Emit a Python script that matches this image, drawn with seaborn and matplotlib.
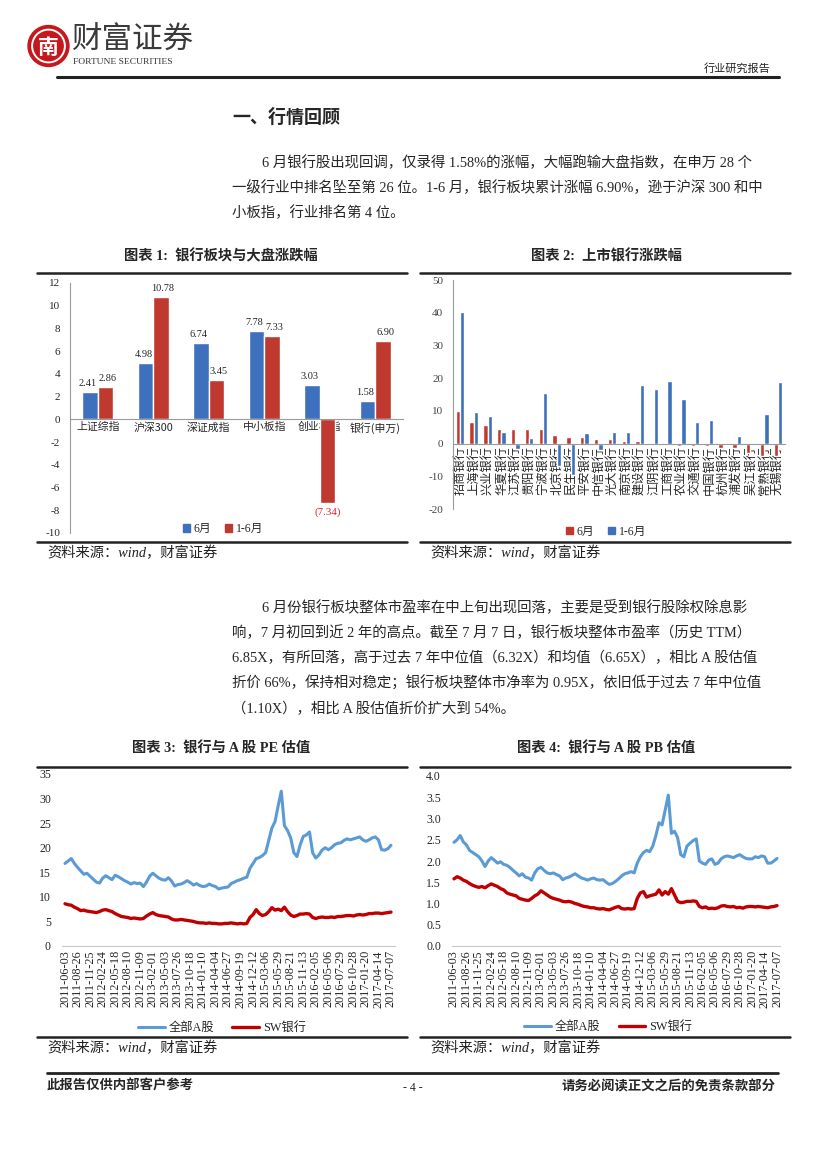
import matplotlib
matplotlib.use("Agg")
import numpy as np
import pandas as pd
import matplotlib.pyplot as plt
import seaborn as sns
from matplotlib.lines import Line2D
from matplotlib.patches import Patch, Circle

W, H = 827, 1169

# ---- chart 1: index returns ----
index_names = ["上证综指", "沪深300", "深证成指", "中小板指", "创业板指", "银行(申万)"]
index_jun = [2.41, 4.98, 6.74, 7.78, 3.03, 1.58]
index_h1 = [2.86, 10.78, 3.45, 7.33, -7.34, 6.90]

# ---- chart 2: listed banks ----
bank_names = ["招商银行", "上海银行", "兴业银行", "华夏银行", "江苏银行", "贵阳银行",
              "宁波银行", "北京银行", "民生银行", "平安银行", "中信银行", "光大银行",
              "南京银行", "建设银行", "江阴银行", "工商银行", "农业银行", "交通银行",
              "中国银行", "杭州银行", "浦发银行", "吴江银行", "常熟银行", "无锡银行"]
bank_jun = [10.1, 6.7, 5.6, 4.6, 4.6, 4.6, 4.6, 2.5, 2.1, 1.9, 1.5, 1.5,
            0.9, 0.9, 0.1, 0.1, -0.6, -0.6, -0.6, -1.3, -1.3, -2.9, -3.7, -3.9]
bank_h1 = [40.3, 9.8, 8.3, 3.4, -1.8, 1.8, 15.6, -6.8, -9.5, 3.2, -2.0, 3.4,
           3.4, 18.0, 16.8, 19.0, 13.5, 6.7, 7.3, 0.3, 2.4, -0.2, 9.0, 18.7]

# ---- charts 3/4: valuation, sampled every 3 weeks ----
date_ticks = ["2011-06-03", "2011-08-26", "2011-11-25", "2012-02-24", "2012-05-18",
              "2012-08-10", "2012-11-09", "2013-02-01", "2013-05-03", "2013-07-26",
              "2013-10-18", "2014-01-10", "2014-04-04", "2014-06-27", "2014-09-19",
              "2014-12-12", "2015-03-06", "2015-05-29", "2015-08-21", "2015-11-13",
              "2016-02-05", "2016-05-06", "2016-07-29", "2016-10-28", "2017-01-20",
              "2017-04-14", "2017-07-07"]
pe_all = [16.8, 17.3, 17.8, 16.8, 16.0, 15.3, 14.6, 14.8, 14.2, 13.6, 13.0, 12.8,
          13.8, 14.3, 13.9, 13.5, 14.4, 14.1, 13.7, 13.3, 13.0, 12.6, 12.9, 12.7,
          12.8, 12.1, 13.0, 14.2, 14.8, 14.3, 13.8, 13.5, 13.4, 13.9, 13.2, 12.2,
          12.5, 12.6, 12.9, 13.3, 12.9, 12.4, 12.7, 12.3, 12.1, 12.2, 12.6, 12.3,
          12.1, 11.6, 11.8, 11.9, 12.0, 12.7, 13.0, 13.3, 13.5, 13.8, 14.0, 15.8,
          16.8, 17.8, 18.0, 18.4, 19.0, 21.5, 24.0, 25.3, 28.5, 31.5, 24.5, 23.5,
          22.0, 19.0, 18.2, 20.5, 22.3, 22.6, 23.2, 19.0, 17.9, 18.5, 19.5, 20.0,
          19.6, 20.0, 20.6, 20.9, 21.0, 21.5, 21.8, 21.6, 21.8, 22.0, 22.2, 21.6,
          21.3, 21.6, 22.0, 22.2, 21.6, 19.6, 19.5, 19.8, 20.5]
pe_bank = [8.6, 8.4, 8.3, 7.9, 7.6, 7.2, 7.3, 7.1, 7.0, 6.9, 6.8, 7.0,
           7.3, 7.4, 7.2, 7.0, 6.6, 6.3, 6.0, 5.9, 5.8, 5.6, 5.7, 5.6,
           5.5, 5.6, 6.1, 6.5, 6.8, 6.4, 6.2, 6.1, 6.0, 5.9, 5.5, 5.3,
           5.3, 5.4, 5.3, 5.2, 5.1, 5.0, 4.8, 4.7, 4.7, 4.6, 4.7, 4.6,
           4.6, 4.5, 4.5, 4.6, 4.6, 4.7, 4.6, 4.5, 4.6, 4.5, 4.6, 5.8,
           6.4, 7.4, 6.6, 6.2, 6.4, 7.0, 7.8, 7.3, 7.5, 7.2, 7.9, 7.0,
           6.3, 6.0, 6.2, 6.5, 6.5, 6.6, 6.5, 5.8, 5.6, 5.8, 5.9, 5.8,
           5.8, 5.9, 5.8, 6.0, 6.0, 6.1, 6.2, 6.2, 6.1, 6.3, 6.4, 6.3,
           6.4, 6.6, 6.6, 6.7, 6.7, 6.6, 6.7, 6.8, 6.9]
pb_all = [2.44, 2.50, 2.60, 2.45, 2.38, 2.25, 2.20, 2.15, 2.10, 2.00, 1.87, 2.00,
          2.08, 2.02, 1.95, 1.98, 1.92, 1.90, 1.85, 1.78, 1.72, 1.65, 1.70, 1.62,
          1.60, 1.55, 1.72, 1.82, 1.85, 1.78, 1.72, 1.70, 1.72, 1.68, 1.65, 1.56,
          1.60, 1.62, 1.66, 1.70, 1.65, 1.60, 1.58, 1.55, 1.58, 1.60, 1.56, 1.55,
          1.56, 1.50, 1.45, 1.47, 1.52, 1.58, 1.65, 1.70, 1.72, 1.75, 1.72, 1.95,
          2.10, 2.20, 2.25, 2.22, 2.35, 2.60, 2.90, 2.85, 3.20, 3.55, 2.65, 2.70,
          2.55, 2.15, 2.10, 2.35, 2.42, 2.48, 2.52, 2.00, 1.95, 1.92, 2.02, 2.05,
          1.92, 1.95, 2.05, 2.10, 2.12, 2.10, 2.08, 2.12, 2.15, 2.10, 2.06, 2.05,
          2.05, 2.10, 2.08, 2.12, 2.10, 1.95, 1.95, 2.00, 2.06]
pb_bank = [1.58, 1.63, 1.60, 1.55, 1.52, 1.47, 1.43, 1.40, 1.38, 1.40, 1.37, 1.42,
           1.46, 1.43, 1.40, 1.35, 1.32, 1.25, 1.22, 1.20, 1.18, 1.12, 1.10, 1.08,
           1.07, 1.12, 1.18, 1.22, 1.30, 1.25, 1.20, 1.15, 1.12, 1.10, 1.08, 1.05,
           1.04, 1.05, 1.03, 1.00, 0.98, 0.95, 0.93, 0.92, 0.90, 0.90, 0.88, 0.87,
           0.88, 0.86, 0.85, 0.88, 0.91, 0.93, 0.88, 0.87, 0.88, 0.87, 0.88, 1.12,
           1.25, 1.28, 1.15, 1.18, 1.20, 1.22, 1.32, 1.20, 1.28, 1.22, 1.35, 1.20,
           1.05, 1.02, 1.03, 1.05, 1.05, 1.06, 1.05, 0.93, 0.90, 0.92, 0.88, 0.89,
           0.88, 0.90, 0.94, 0.95, 0.93, 0.92, 0.93, 0.90, 0.91, 0.89, 0.92, 0.93,
           0.93, 0.92, 0.93, 0.92, 0.91, 0.90, 0.92, 0.93, 0.95]

BLUE = "#3d70bd"
RED = "#c0392f"
LBLUE = "#5b9bd5"
DRED = "#c00000"

sns.set_theme(style="white")
plt.rcParams["font.family"] = ["Liberation Serif", "Noto Sans CJK SC"]
plt.rcParams["axes.unicode_minus"] = False
CJK = ["Noto Sans CJK SC", "DejaVu Sans"]
SERIF = ["Liberation Serif", "Noto Sans CJK SC"]

fig = plt.figure(figsize=(8.27, 11.69), dpi=100)


def fx(x):
    return x / W


def fy(y):
    return 1 - y / H


def hline(x0, x1, y, lw=1.8, color="#222222"):
    fig.add_artist(Line2D([fx(x0), fx(x1)], [fy(y), fy(y)], lw=lw, color=color,
                          transform=fig.transFigure))


def ftext(x, y, s, **kw):
    kw.setdefault("va", "center")
    kw.setdefault("family", SERIF)
    fig.text(fx(x), fy(y), s, **kw)


def axes_px(left, top, right, bottom):
    return fig.add_axes([fx(left), fy(bottom), (right - left) / W, (bottom - top) / H])


# ---- page header ----
logo = axes_px(27, 24, 70, 68)
logo.set_aspect("equal")
logo.add_patch(Circle((0, 0), 1.0, color="#c8161d"))
logo.add_patch(Circle((0, 0), 0.80, fill=False, ec="white", lw=1.4))
logo.text(0, -0.05, "南", color="white", ha="center", va="center", fontsize=15,
          family=CJK, weight="bold")
logo.set_xlim(-1.05, 1.05)
logo.set_ylim(-1.05, 1.05)
logo.axis("off")
ftext(72, 40, "财富证券", fontsize=22, family=CJK, color="#3a3a3a")
ftext(73, 62, "FORTUNE SECURITIES", fontsize=6.8, color="#333333")
ftext(770, 68, "行业研究报告", fontsize=8, family=CJK, ha="right", color="#222222")
hline(57, 779, 77, lw=2.2)

ftext(232, 117, "一、行情回顾", fontsize=13, family=CJK, weight="bold")

para1 = ["6 月银行股出现回调，仅录得 1.58%的涨幅，大幅跑输大盘指数，在申万 28 个",
         "一级行业中排名坠至第 26 位。1-6 月，银行板块累计涨幅 6.90%，逊于沪深 300 和中",
         "小板指，行业排名第 4 位。"]
for i, line in enumerate(para1):
    ftext(262 if i == 0 else 232, 163 + 25 * i, line, fontsize=10.4)

para2 = ["6 月份银行板块整体市盈率在中上旬出现回落，主要是受到银行股除权除息影",
         "响，7 月初回到近 2 年的高点。截至 7 月 7 日，银行板块整体市盈率（历史 TTM）",
         "6.85X，有所回落，高于过去 7 年中位值（6.32X）和均值（6.65X），相比 A 股估值",
         "折价 66%，保持相对稳定；银行板块整体市净率为 0.95X，依旧低于过去 7 年中位值",
         "（1.10X），相比 A 股估值折价扩大到 54%。"]
for i, line in enumerate(para2):
    ftext(262 if i == 0 else 232, 607 + 25.5 * i, line, fontsize=10.4)

# ---- chart frames ----
frames = [(37, 407, 221, 256, 273, 542, "图表 1:  银行板块与大盘涨跌幅"),
          (420, 790, 606, 256, 273, 542, "图表 2:  上市银行涨跌幅"),
          (37, 407, 221, 748, 767, 1037, "图表 3:  银行与 A 股 PE 估值"),
          (420, 790, 606, 748, 767, 1037, "图表 4:  银行与 A 股 PB 估值")]
for x0, x1, xc, yt, ytop, ybot, title in frames:
    ftext(xc, yt, title, fontsize=10.3, ha="center", weight="bold")
    hline(x0, x1, ytop)
    hline(x0, x1, ybot)
    ftext(x0 + 10, ybot + 11, "资料来源：wind，财富证券", fontsize=10.3,
          style="italic", color="#222222")


def style_bar_axes(ax):
    sns.despine(ax=ax, top=True, right=True)
    ax.spines["bottom"].set_position(("data", 0))
    ax.spines["bottom"].set_color("#9a9a9a")
    ax.spines["left"].set_color("#9a9a9a")
    ax.spines["bottom"].set_linewidth(0.8)
    ax.spines["left"].set_linewidth(0.8)
    ax.set_xlabel("")
    ax.set_ylabel("")
    ax.tick_params(axis="x", length=0, pad=2)
    ax.tick_params(axis="y", length=3, width=0.6, color="#9a9a9a", direction="out",
                   labelsize=8, pad=4)


# ---- chart 1 ----
ax1 = axes_px(70, 283, 403, 533)
df1 = pd.DataFrame({"板块": index_names * 2,
                    "期间": ["6月"] * len(index_names) + ["1-6月"] * len(index_names),
                    "涨跌幅": index_jun + index_h1})
sns.barplot(data=df1, x="板块", y="涨跌幅", hue="期间", hue_order=["6月", "1-6月"],
            palette=[BLUE, RED], width=0.55, errorbar=None, saturation=1,
            legend=False, ax=ax1)
ax1.set_ylim(-10, 12)
ax1.set_yticks(range(-10, 13, 2))
style_bar_axes(ax1)
for lab in ax1.get_xticklabels():
    lab.set_fontfamily(CJK)
    lab.set_fontsize(7.8)
# value labels; the two series are nudged apart a little so neighbours don't collide
for cont, vals, dx in zip(ax1.containers, [index_jun, index_h1], [-1.6, 1.6]):
    for bar, v in zip(cont, vals):
        cx = bar.get_x() + bar.get_width() / 2
        if v >= 0:
            ax1.annotate(f"{v:.2f}", xy=(cx, v), xytext=(dx, 3), textcoords="offset points",
                         ha="center", va="bottom", fontsize=7.4)
        else:
            ax1.annotate(f"({-v:.2f})", xy=(cx, v), xytext=(0, -3),
                         textcoords="offset points", ha="center", va="top",
                         fontsize=7.8, color="#e0202a")
ax1.legend(handles=[Patch(color=BLUE, label="6月"), Patch(color=RED, label="1-6月")],
           loc="center", bbox_to_anchor=(0.46, 0.015), ncol=2, frameon=False,
           handlelength=0.6, handleheight=0.6, handletextpad=0.3, columnspacing=1.2,
           prop={"family": SERIF, "size": 8.5})

# ---- chart 2 ----
ax2 = axes_px(453, 280, 785, 509)
df2 = pd.DataFrame({"银行": bank_names * 2,
                    "期间": ["6月"] * len(bank_names) + ["1-6月"] * len(bank_names),
                    "涨跌幅": bank_jun + bank_h1})
sns.barplot(data=df2, x="银行", y="涨跌幅", hue="期间", hue_order=["6月", "1-6月"],
            palette=[RED, BLUE], width=0.62, errorbar=None, saturation=1,
            legend=False, ax=ax2)
ax2.set_ylim(-20, 50)
ax2.set_yticks(range(-20, 51, 10))
style_bar_axes(ax2)
ax2.tick_params(axis="y", labelcolor="#444444")
ax2.set_xticks(range(len(bank_names)))
ax2.set_xticklabels(bank_names, rotation=90, fontsize=8.8, family=CJK, va="top")
ax2.legend(handles=[Patch(color=RED, label="6月"), Patch(color=BLUE, label="1-6月")],
           loc="center", bbox_to_anchor=(0.46, -0.10), ncol=2, frameon=False,
           handlelength=0.6, handleheight=0.6, handletextpad=0.3, columnspacing=1.2,
           prop={"family": SERIF, "size": 8.5})


# ---- charts 3 and 4 ----
def valuation_chart(ax, all_vals, bank_vals, ymax, step, fmt, xlim, legend_x):
    xpos = np.arange(len(all_vals)) / 4
    sns.lineplot(x=xpos, y=all_vals, color=LBLUE, lw=2.2, ax=ax, label="全部A股")
    sns.lineplot(x=xpos, y=bank_vals, color=DRED, lw=2.4, ax=ax, label="SW银行")
    ax.set_xlim(*xlim)
    ax.set_ylim(0, ymax)
    ax.set_yticks(np.arange(0, ymax + step / 2, step))
    ax.set_yticklabels([fmt.format(t) for t in np.arange(0, ymax + step / 2, step)])
    ax.set_xticks(range(len(date_ticks)))
    ax.set_xticklabels(date_ticks, rotation=90, fontsize=8.8, va="top")
    sns.despine(ax=ax, top=True, right=True, left=True)
    ax.spines["bottom"].set_color("#c8c8c8")
    ax.spines["bottom"].set_linewidth(0.8)
    ax.tick_params(axis="both", length=0, pad=3)
    ax.tick_params(axis="y", pad=8, labelsize=8.5)
    ax.legend(loc="center", bbox_to_anchor=(legend_x, -0.478), ncol=2, frameon=False,
              handlelength=2.2, handletextpad=0.3, columnspacing=1.5,
              prop={"family": SERIF, "size": 8.8})


ax3 = axes_px(62, 774, 395, 946)
valuation_chart(ax3, pe_all, pe_bank, 35, 5, "{:.0f}", (-0.24, 26.32), 0.48)

ax4 = axes_px(452, 776, 780, 946)
valuation_chart(ax4, pb_all, pb_bank, 4.0, 0.5, "{:.1f}", (-0.16, 26.24), 0.476)

# ---- footer ----
hline(47, 778, 1073, lw=2.0)
ftext(47, 1086, "此报告仅供内部客户参考", fontsize=9.6, family=CJK, weight="bold")
ftext(413, 1088, "- 4 -", fontsize=8.5, ha="center")
ftext(776, 1086, "请务必阅读正文之后的免责条款部分", fontsize=9.6, family=CJK,
      weight="bold", ha="right")

fig.savefig("out.png", dpi=100)
